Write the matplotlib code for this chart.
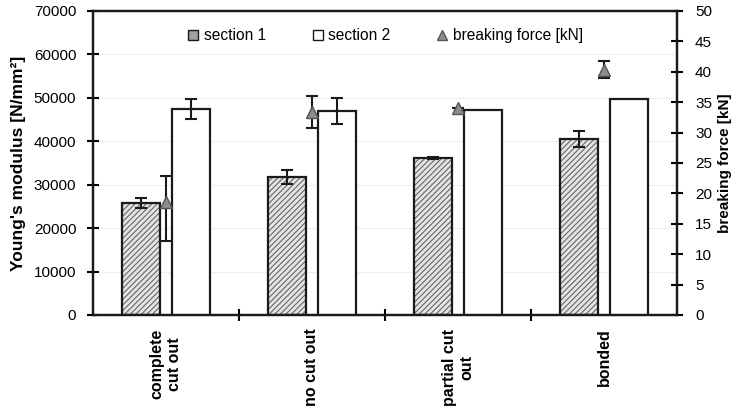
import numpy as np
import matplotlib.pyplot as plt
from matplotlib.lines import Line2D

plt.rcParams['font.family'] = ['Liberation Sans', 'DejaVu Sans']
plt.rcParams['hatch.linewidth'] = 0.8

# data
categories = ['complete\ncut out', 'no cut out', 'partial cut\nout', 'bonded']
section1 = [25800, 31800, 36150, 40500]
section1_err = [1150, 1600, 300, 1800]
section2 = [47400, 47000, 47200, 49800]
section2_err = [2300, 3000, 0, 0]
force = [18.6, 33.4, 34.0, 40.3]
force_err_low = [6.4, 2.6, 0, 1.4]
force_err_high = [4.3, 2.6, 0, 1.4]

x = np.arange(len(categories))
w = 0.26
off = 0.172

fig = plt.figure(figsize=(7.36, 4.09), dpi=100)
ax = fig.add_axes([93/736, 1-315/409, (677-93)/736, (315-11)/409])

# section 1: hatched bars, hatch in grey then black outline on top
plt.rcParams['hatch.color'] = '#666666'
ax.bar(x - off, section1, w, color='#e4e4e4', hatch='//////', edgecolor='#666666', linewidth=0, zorder=2)
ax.bar(x - off, section1, w, fill=False, edgecolor='#1a1a1a', linewidth=1.6, zorder=3)
ax.bar(x + off, section2, w, color='white', edgecolor='#1a1a1a', linewidth=1.6, zorder=3)

eb = dict(fmt='none', ecolor='#1a1a1a', elinewidth=1.5, capsize=4, capthick=1.5, zorder=4)
ax.errorbar(x - off, section1, yerr=section1_err, **eb)
ax.errorbar(x[:2] + off, section2[:2], yerr=section2_err[:2], **eb)

ax.set_xlim(-0.5, 3.5)
ax.set_ylim(0, 70000)
ax.set_yticks(np.arange(0, 70001, 10000))
ax.set_xticks(x)
ax.set_xticklabels([])
ax.set_xticks([0.5, 1.5, 2.5], minor=True)
ax.tick_params(axis='x', which='major', length=0)
ax.tick_params(axis='x', which='minor', direction='inout', length=8, width=1.5)
ax.tick_params(axis='y', direction='inout', length=8, width=1.5, labelsize=11, pad=8)
ax.yaxis.grid(True, color='#eeeeee', linewidth=0.8, zorder=0)
ax.set_axisbelow(True)
for s in ax.spines.values():
    s.set_linewidth(1.6)
    s.set_color('#1a1a1a')

for xi, lab in zip(x, categories):
    ax.text(xi, -0.045, lab, transform=ax.get_xaxis_transform(), rotation=90,
            ha='center', va='top', fontsize=11.5, fontweight='bold', multialignment='center')

ax.set_ylabel("Young's modulus [N/mm²]", fontsize=12.5, fontweight='bold', labelpad=6)

ax2 = ax.twinx()
ax2.set_ylim(0, 50)
ax2.set_yticks(np.arange(0, 51, 5))
ax2.tick_params(axis='y', direction='inout', length=8, width=1.5, labelsize=11, pad=9)
for s in ax2.spines.values():
    s.set_linewidth(1.6)
    s.set_color('#1a1a1a')
ax2.errorbar(x, force, yerr=[force_err_low, force_err_high], fmt='^', color='#8c8c8c',
             markeredgecolor='#555555', markersize=8, ecolor='#1a1a1a', elinewidth=1.5,
             capsize=4, capthick=1.5, zorder=5)
ax2.set_ylabel('breaking force [kN]', fontsize=11, fontweight='bold', labelpad=4)

handles = [
    Line2D([], [], marker='s', linestyle='none', markerfacecolor='#a0a0a0', markeredgecolor='#1a1a1a', markersize=7),
    Line2D([], [], marker='s', linestyle='none', markerfacecolor='white', markeredgecolor='#1a1a1a', markersize=7),
    Line2D([], [], marker='^', linestyle='none', markerfacecolor='#8c8c8c', markeredgecolor='#555555', markersize=7),
]
ax2.legend(handles, ['section 1', 'section 2', 'breaking force [kN]'], loc='upper center',
           bbox_to_anchor=(0.5, 0.99), ncol=3, frameon=False, fontsize=11.2,
           handletextpad=0.3, columnspacing=2.9, handlelength=0.8)

fig.savefig('out.png', dpi=100)
